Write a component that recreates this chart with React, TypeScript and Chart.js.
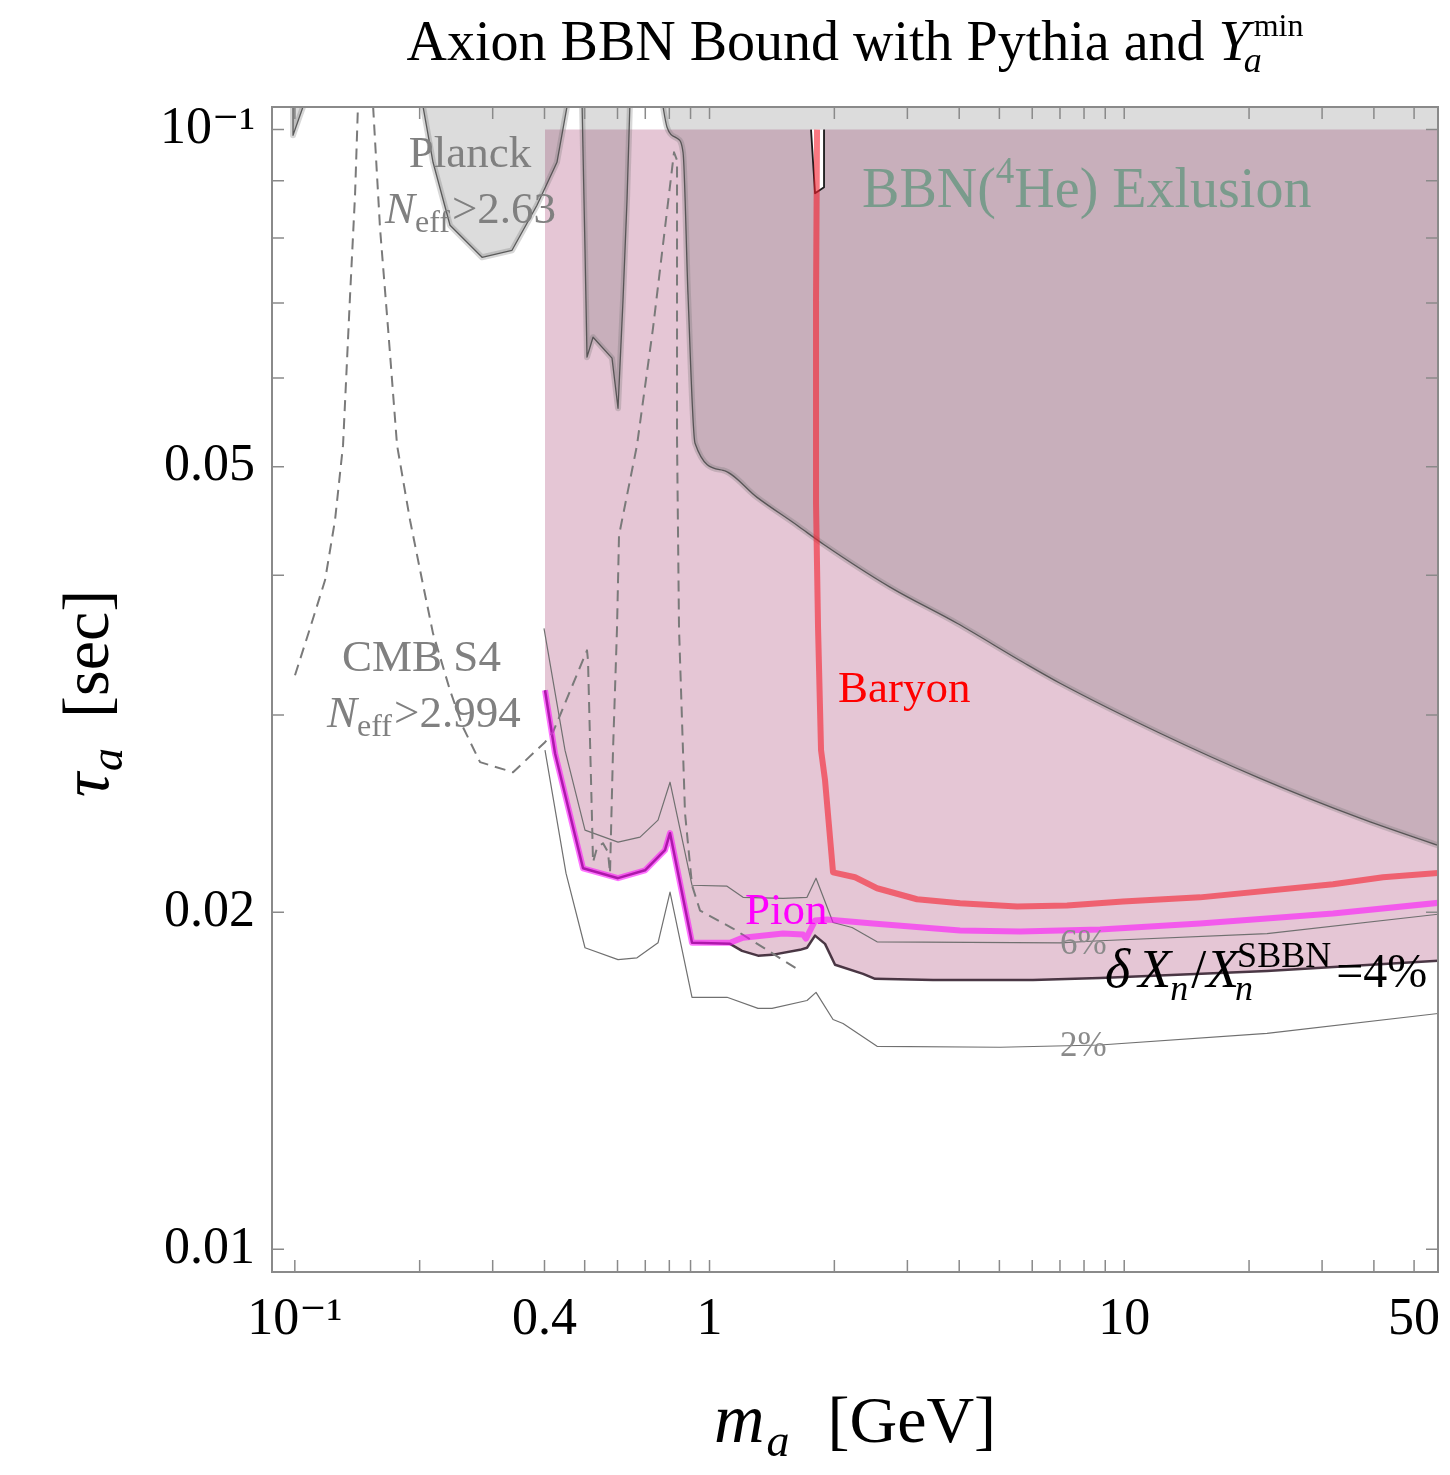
import React, { useEffect, useRef } from 'react';
import { Chart, registerables } from 'chart.js';

Chart.register(...registerables);

const FONT = "'Liberation Serif', 'DejaVu Serif', 'Times New Roman', serif";

// ---- axis ranges ----
const X_MIN = 0.0881;
const X_MAX = 57.1;
const Y_MIN = 0.009543;
const Y_MAX = 0.10476;

// ---- ticks ----
const xTickValues = [0.1, 0.4, 1, 10, 50];
const xTickLabels = ['10⁻¹', '0.4', '1', '10', '50'];
const yTickValues = [0.01, 0.02, 0.05, 0.1];
const yTickLabels = ['0.01', '0.02', '0.05', '10⁻¹'];
const xMinorTicks = [0.1, 0.2, 0.3, 0.4, 0.5, 0.6, 0.7, 0.8, 0.9, 1, 2, 3, 4, 5, 6, 7, 8, 9, 10, 20, 30, 40, 50];
const yMinorTicks = [0.01, 0.02, 0.03, 0.04, 0.05, 0.06, 0.07, 0.08, 0.09, 0.1];

// ---- data: m_a [GeV], tau_a [sec] ----
// dX_n/X_n^SBBN = 4% contour (lower edge of the BBN exclusion)
const fourMass = [0.4011, 0.424, 0.4954, 0.6017, 0.699, 0.7811, 0.8031, 0.9074, 1.1206, 1.1977, 1.3092, 1.415, 1.6529, 1.7184, 1.7965, 1.899, 2.0075, 2.3457, 2.5069, 3.4592, 6.0265, 8.7436, 22.1, 58];
const fourTau = [0.03157, 0.02773, 0.02189, 0.02145, 0.0218, 0.02272, 0.02353, 0.01878, 0.01874, 0.01847, 0.01829, 0.01832, 0.01851, 0.01859, 0.01906, 0.01874, 0.01795, 0.01762, 0.01744, 0.0174, 0.0174, 0.01747, 0.01772, 0.01811];

// Pion bound
const pionMass = [0.4011, 0.424, 0.4954, 0.6017, 0.699, 0.7811, 0.8031, 0.9074, 1.1206, 1.2044, 1.504, 1.6807, 1.7089, 1.7965, 1.9202, 2.4792, 4.0193, 5.6071, 8.7436, 15.233, 31.878, 58];
const pionTau = [0.03157, 0.02773, 0.02189, 0.02145, 0.0218, 0.02272, 0.02353, 0.01878, 0.01878, 0.01898, 0.01914, 0.0191, 0.01894, 0.01966, 0.0197, 0.01954, 0.01926, 0.01922, 0.0193, 0.01954, 0.01995, 0.0204];

// 6% contour
const sixMass = [0.3989, 0.4482, 0.5009, 0.6017, 0.6799, 0.7513, 0.8031, 0.9074, 1.1021, 1.2044, 1.504, 1.7184, 1.8065, 1.9854, 2.2066, 2.5349, 7.0015, 8.7436, 22.1, 58];
const sixTau = [0.03586, 0.02791, 0.02368, 0.0231, 0.02334, 0.02417, 0.02613, 0.02114, 0.0211, 0.02062, 0.02058, 0.02062, 0.02145, 0.01958, 0.01938, 0.01882, 0.01878, 0.01886, 0.01914, 0.01993];

// 2% contour
const twoMass = [0.4011, 0.4507, 0.5009, 0.6017, 0.6686, 0.7513, 0.8031, 0.9074, 1.1021, 1.3092, 1.415, 1.7184, 1.8065, 1.9854, 2.0986, 2.5349, 5.0177, 8.7436, 22.1, 58];
const twoTau = [0.02791, 0.02167, 0.01859, 0.01814, 0.01821, 0.01878, 0.02084, 0.01679, 0.01679, 0.01641, 0.01641, 0.01668, 0.01696, 0.01604, 0.01591, 0.01518, 0.01515, 0.01522, 0.01559, 0.01625];

// Baryon bound
const baryonMass = [1.8165, 1.8065, 1.8065, 1.8267, 1.8574, 1.899, 1.9854, 2.2437, 2.5349, 3.1649, 4.0193, 5.5145, 7.2792, 9.9337, 15.233, 31.878, 42.083, 58];
const baryonTau = [0.1, 0.0704, 0.04636, 0.03593, 0.02791, 0.02624, 0.02171, 0.02149, 0.02101, 0.02054, 0.02037, 0.02024, 0.02028, 0.02045, 0.02062, 0.02118, 0.02149, 0.02169];

// small un-excluded sliver near the top
const sliverMass = [1.757, 1.7965, 1.8885, 1.8885];
const sliverTau = [0.1, 0.08773, 0.08882, 0.1];

// CMB S4 N_eff > 2.994 (dashed)
const cmbMass = [0.1001, 0.1088, 0.1183, 0.125, 0.1307, 0.1359, 0.1397, 0.142, 0.1485, 0.1544, 0.1605, 0.1678, 0.1764, 0.1896, 0.2027, 0.2154, 0.2367, 0.2544, 0.2797, 0.3359, 0.4011, 0.4193, 0.5065, 0.5093, 0.5208, 0.5237, 0.5354, 0.5536, 0.5691, 0.5755, 0.5852, 0.5983, 0.605, 0.6686, 0.7307, 0.8211, 0.8349, 0.8349, 0.8442, 0.8728, 0.9074, 0.9486, 1.1394, 1.6255];
const cmbTau = [0.03256, 0.03586, 0.0396, 0.04478, 0.05226, 0.07112, 0.08737, 0.1051, 0.115, 0.1051, 0.08164, 0.06647, 0.05226, 0.04478, 0.0396, 0.03549, 0.03157, 0.02926, 0.02723, 0.02667, 0.02837, 0.02896, 0.03427, 0.03357, 0.02417, 0.02217, 0.02282, 0.02305, 0.02263, 0.02167, 0.02791, 0.03586, 0.04342, 0.05226, 0.06647, 0.09544, 0.09388, 0.05301, 0.03586, 0.02452, 0.02114, 0.02007, 0.01934, 0.0178];

// Planck N_eff > 2.63 excluded regions (boundaries, filled to the top)
const planckAMass = [0.099, 0.099, 0.1058];
const planckATau = [0.106, 0.09884, 0.106];
const planckBMass = [0.2027, 0.2154, 0.2367, 0.2828, 0.334, 0.3837, 0.4287, 0.4557];
const planckBTau = [0.106, 0.0935, 0.08214, 0.07691, 0.07802, 0.08559, 0.0935, 0.106];
const planckCMass = [0.4926, 0.5009, 0.5065, 0.5237, 0.5819, 0.6017, 0.6186, 0.6325, 0.6431];
const planckCTau = [0.106, 0.07802, 0.06263, 0.06525, 0.0625, 0.05638, 0.0704, 0.08648, 0.106];
const planckDMass = [0.7682, 0.7898, 0.8349, 0.8632, 0.8875, 0.9226, 1.0779, 1.3019, 1.6255, 1.8781, 2.7241, 3.9529, 5.701, 7.0015, 12.2, 21.259, 37.033, 58];
const planckDTau = [0.106, 0.1005, 0.09823, 0.09544, 0.07112, 0.05247, 0.04963, 0.04694, 0.04432, 0.04265, 0.03903, 0.03623, 0.03344, 0.03203, 0.0289, 0.02634, 0.02427, 0.0229];

const zip = (m: number[], t: number[]) => m.map((x, i) => ({ x, y: t[i] }));

type Seg = { t: string; size: number; italic?: boolean; dy?: number; stack?: boolean; gap?: number; color?: string };

function drawRich(ctx: CanvasRenderingContext2D, segs: Seg[], x: number, y: number, color: string, align: string) {
  const starts: number[] = [];
  let cursor = 0;
  let lastStart = 0;
  for (const s of segs) {
    ctx.font = `${s.italic ? 'italic ' : ''}${s.size}px ${FONT}`;
    const w = ctx.measureText(s.t).width;
    let start;
    if (s.stack) {
      start = lastStart + (s.gap || 0);
      cursor = Math.max(cursor, start + w);
    } else {
      start = cursor + (s.gap || 0);
      cursor = start + w;
    }
    lastStart = start;
    starts.push(start);
  }
  const x0 = align === 'center' ? x - cursor / 2 : x;
  segs.forEach((s, i) => {
    ctx.font = `${s.italic ? 'italic ' : ''}${s.size}px ${FONT}`;
    ctx.fillStyle = s.color || color;
    ctx.fillText(s.t, x0 + starts[i], y + (s.dy || 0));
  });
}

const GRAY_TEXT = '#808080';

const titleSegs: Seg[] = [
  { t: 'Axion BBN Bound with Pythia and ', size: 56 },
  { t: 'Y', size: 56, italic: true },
  { t: 'a', size: 36, italic: true, dy: 12, gap: -6 },
  { t: 'min', size: 32, dy: -24, stack: true, gap: 10 },
];
const xLabelSegs: Seg[] = [
  { t: 'm', size: 70, italic: true },
  { t: 'a', size: 46, italic: true, dy: 14, gap: 2 },
  { t: '[GeV]', size: 66, gap: 38 },
];
const yLabelSegs: Seg[] = [
  { t: 'τ', size: 68, italic: true },
  { t: 'a', size: 46, italic: true, dy: 14, gap: 2 },
  { t: '[sec]', size: 66, gap: 30 },
];

const notes = [
  { m: 0.2645, tau: 0.09254, align: 'center', color: GRAY_TEXT, segs: [{ t: 'Planck', size: 45 }] },
  { m: 0.165, tau: 0.08249, align: 'left', color: GRAY_TEXT, segs: [{ t: 'N', size: 45, italic: true }, { t: 'eff', size: 32, dy: 9 }, { t: '>2.63', size: 45, gap: 2 }] },
  { m: 2.3323, tau: 0.08524, align: 'left', color: 'rgb(122,155,140)', segs: [{ t: 'BBN(', size: 56 }, { t: '4', size: 37, dy: -24 }, { t: 'He) Exlusion', size: 56 }] },
  { m: 0.13, tau: 0.03283, align: 'left', color: GRAY_TEXT, segs: [{ t: 'CMB S4', size: 45 }] },
  { m: 0.1196, tau: 0.02926, align: 'left', color: GRAY_TEXT, segs: [{ t: 'N', size: 45, italic: true }, { t: 'eff', size: 32, dy: 9 }, { t: '>2.994', size: 45, gap: 2 }] },
  { m: 2.0406, tau: 0.0308, align: 'left', color: '#ff0000', segs: [{ t: 'Baryon', size: 45 }] },
  { m: 1.2178, tau: 0.01952, align: 'left', color: '#ff00ff', segs: [{ t: 'Pion', size: 45 }] },
  { m: 7.0015, tau: 0.01836, align: 'left', color: '#8a8a8a', segs: [{ t: '6%', size: 35 }] },
  { m: 7.0015, tau: 0.01488, align: 'left', color: '#8a8a8a', segs: [{ t: '2%', size: 35 }] },
  {
    m: 8.99, tau: 0.01715, align: 'left', color: '#000000',
    segs: [
      { t: 'δ', size: 54, italic: true },
      { t: 'X', size: 54, italic: true, gap: 8 },
      { t: 'n', size: 36, italic: true, dy: 13, gap: -1 },
      { t: '/', size: 54, gap: 3 },
      { t: 'X', size: 54, italic: true },
      { t: 'n', size: 36, italic: true, dy: 13, gap: -4 },
      { t: 'SBBN', size: 36, dy: -20, stack: true, gap: 2 },
      { t: '=4%', size: 48, gap: 5 },
    ],
  },
];

const framePlugin = {
  id: 'frameTicks',
  afterDatasetsDraw(chart: any) {
    const { ctx, chartArea, scales } = chart;
    const { left, right, top, bottom } = chartArea;
    const xs = scales.x;
    const ys = scales.y;
    ctx.save();
    ctx.strokeStyle = '#8a8a8a';
    ctx.lineWidth = 1.5;
    ctx.beginPath();
    for (const v of xMinorTicks) {
      const p = xs.getPixelForValue(v);
      ctx.moveTo(p, bottom);
      ctx.lineTo(p, bottom - 12);
      ctx.moveTo(p, top);
      ctx.lineTo(p, top + 12);
    }
    for (const v of yMinorTicks) {
      const p = ys.getPixelForValue(v);
      ctx.moveTo(left, p);
      ctx.lineTo(left + 12, p);
      ctx.moveTo(right, p);
      ctx.lineTo(right - 12, p);
    }
    ctx.stroke();
    ctx.lineWidth = 2;
    ctx.strokeRect(left, top, right - left, bottom - top);
    ctx.restore();
  },
};

const textPlugin = {
  id: 'richText',
  afterDraw(chart: any) {
    const { ctx, chartArea, scales } = chart;
    const cx = (chartArea.left + chartArea.right) / 2;
    ctx.save();
    ctx.textBaseline = 'alphabetic';
    ctx.textAlign = 'left';
    drawRich(ctx, titleSegs, cx, chartArea.top - 47, '#000000', 'center');
    drawRich(ctx, xLabelSegs, cx, chartArea.bottom + 170, '#000000', 'center');
    ctx.save();
    ctx.translate(100, (chartArea.top + chartArea.bottom) / 2 + 4);
    ctx.rotate(-Math.PI / 2);
    drawRich(ctx, yLabelSegs, 0, 0, '#000000', 'center');
    ctx.restore();
    for (const n of notes) {
      drawRich(ctx, n.segs as Seg[], scales.x.getPixelForValue(n.m), scales.y.getPixelForValue(n.tau), n.color, n.align);
    }
    ctx.restore();
  },
};

const base = {
  pointRadius: 0,
  pointHoverRadius: 0,
  tension: 0,
  borderJoinStyle: 'round',
  fill: false,
};

const PLANCK_FILL = 'rgba(97,97,97,0.222)';
const PLANCK_HALO = 'rgba(110,110,110,0.28)';
const PLANCK_LINE = 'rgba(70,70,70,0.85)';

function planckFill(m: number[], t: number[], smooth = false) {
  return {
    ...base, data: zip(m, t), fill: 'end', backgroundColor: PLANCK_FILL, borderColor: PLANCK_HALO, borderWidth: 6, order: 6,
    ...(smooth ? { cubicInterpolationMode: 'monotone' } : {}),
  };
}
function planckLine(m: number[], t: number[], smooth = false) {
  return {
    ...base, data: zip(m, t), borderColor: PLANCK_LINE, borderWidth: 1.3, order: 5,
    ...(smooth ? { cubicInterpolationMode: 'monotone' } : {}),
  };
}

export default function App() {
  const canvasRef = useRef<HTMLCanvasElement | null>(null);

  useEffect(() => {
    if (!canvasRef.current) return;
    const chart = new Chart(canvasRef.current, {
      type: 'line',
      data: {
        datasets: [
          { ...base, label: 'Baryon', data: zip(baryonMass, baryonTau), borderColor: 'rgba(245,30,45,0.6)', borderWidth: 6, order: 1 },
          { ...base, label: 'Pion', data: zip(pionMass, pionTau), borderColor: 'rgba(255,0,255,0.55)', borderWidth: 6, order: 2 },
          { ...base, label: 'sliver', data: zip(sliverMass, sliverTau), borderColor: '#1a1a1a', borderWidth: 1.8, backgroundColor: '#ffffff', fill: { value: 0.1 }, order: 3 },
          { ...base, label: 'CMB S4', data: zip(cmbMass, cmbTau), borderColor: '#7a7a7a', borderWidth: 2, borderDash: [11, 7], order: 4 },
          planckLine(planckAMass, planckATau),
          planckLine(planckBMass, planckBTau),
          planckLine(planckCMass, planckCTau),
          planckLine(planckDMass, planckDTau, true),
          planckFill(planckAMass, planckATau),
          planckFill(planckBMass, planckBTau),
          planckFill(planckCMass, planckCTau),
          planckFill(planckDMass, planckDTau, true),
          { ...base, label: '6%', data: zip(sixMass, sixTau), borderColor: '#707070', borderWidth: 1.2, order: 7 },
          { ...base, label: '2%', data: zip(twoMass, twoTau), borderColor: '#707070', borderWidth: 1.2, order: 7 },
          { ...base, label: '4%', data: zip(fourMass, fourTau), borderColor: 'rgba(55,35,50,0.9)', borderWidth: 2.5, backgroundColor: 'rgb(229,198,213)', fill: { value: 0.1 }, order: 8 },
        ] as any,
      },
      options: {
        responsive: false,
        animation: false,
        devicePixelRatio: 1,
        events: [],
        layout: { padding: { top: 99, right: 4, left: 0, bottom: 0 } },
        plugins: {
          legend: { display: false },
          tooltip: { enabled: false },
          title: { display: false },
        },
        scales: {
          x: {
            type: 'logarithmic',
            min: X_MIN,
            max: X_MAX,
            bounds: 'data',
            grid: { display: false, drawTicks: false },
            border: { display: false },
            ticks: {
              autoSkip: false,
              maxRotation: 0,
              minRotation: 0,
              padding: 17,
              color: '#000000',
              font: { family: FONT, size: 52 },
              callback: (_v: any, i: number) => xTickLabels[i],
            },
            afterBuildTicks: (s: any) => {
              s.ticks = xTickValues.map((v) => ({ value: v }));
            },
            afterFit: (s: any) => {
              s.height = 195;
              s.paddingLeft = 0;
              s.paddingRight = 0;
            },
          },
          y: {
            type: 'logarithmic',
            min: Y_MIN,
            max: Y_MAX,
            bounds: 'data',
            grid: { display: false, drawTicks: false },
            border: { display: false },
            ticks: {
              autoSkip: false,
              padding: 17,
              color: '#000000',
              font: { family: FONT, size: 52 },
              callback: (_v: any, i: number) => yTickLabels[i],
            },
            afterBuildTicks: (s: any) => {
              s.ticks = yTickValues.map((v) => ({ value: v }));
            },
            afterFit: (s: any) => {
              s.width = 264;
              s.paddingTop = 0;
              s.paddingBottom = 0;
            },
          },
        },
      } as any,
      plugins: [framePlugin, textPlugin],
    });
    return () => chart.destroy();
  }, []);

  return <canvas ref={canvasRef} width={1434} height={1459} style={{ display: 'block' }} />;
}
